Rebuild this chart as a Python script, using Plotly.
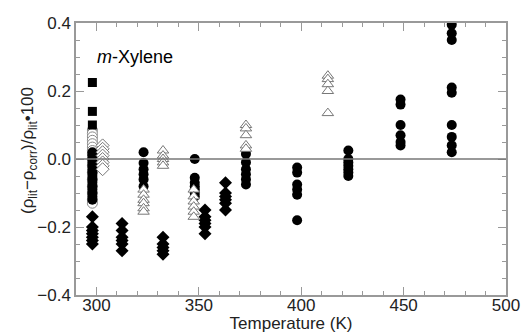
import plotly.graph_objects as go

# Filled squares
sq_T = [298, 298, 298]
sq_v = [0.225, 0.14, 0.10]

# Open circles (298 K)
oc_T = [298] * 16
oc_v = [0.085, 0.075, 0.065, 0.055, 0.045, 0.035, 0.025, 0.015, 0.0, -0.02,
        -0.04, -0.06, -0.08, -0.10, -0.12, -0.13]

# Filled circles
fc_T = ([298] * 15 + [323] * 6 + [348] * 7 + [373] * 6 + [398] * 6 +
        [423] * 7 + [448.5] * 6 + [473.5] * 9)
fc_v = ([0.02, 0.01, 0.0, -0.01, -0.02, -0.03, -0.04, -0.05, -0.06, -0.07,
         -0.08, -0.09, -0.10, -0.11, -0.12] +
        [0.02, -0.012, -0.03, -0.045, -0.06, -0.08] +
        [0.0, -0.055, -0.07, -0.08, -0.09, -0.10, -0.11] +
        [0.015, -0.01, -0.03, -0.045, -0.06, -0.075] +
        [-0.025, -0.04, -0.075, -0.09, -0.105, -0.18] +
        [0.025, 0.0, -0.01, -0.02, -0.03, -0.04, -0.05] +
        [0.175, 0.16, 0.10, 0.07, 0.05, 0.04] +
        [0.395, 0.37, 0.35, 0.21, 0.195, 0.10, 0.065, 0.04, 0.02])

# Filled diamonds
fd_T = [298] * 7 + [312.5] * 6 + [332.5] * 5 + [353] * 6 + [363] * 6
fd_v = ([-0.17, -0.20, -0.21, -0.22, -0.23, -0.24, -0.25] +
        [-0.19, -0.21, -0.23, -0.24, -0.25, -0.27] +
        [-0.23, -0.25, -0.26, -0.27, -0.28] +
        [-0.15, -0.17, -0.18, -0.19, -0.20, -0.22] +
        [-0.07, -0.10, -0.11, -0.12, -0.13, -0.15])

# Open diamonds
od_T = [303] * 8
od_v = [0.04, 0.03, 0.02, 0.01, 0.0, -0.01, -0.02, -0.03]

# Open triangles
ot_T = [323] * 6 + [332.5] * 5 + [347.5] * 6 + [373] * 5 + [413] * 5
ot_v = ([-0.09, -0.105, -0.12, -0.13, -0.145, -0.155] +
        [0.025, 0.01, 0.0, -0.01, -0.02] +
        [-0.09, -0.11, -0.125, -0.14, -0.155, -0.17] +
        [0.10, 0.09, 0.07, 0.04, 0.03] +
        [0.245, 0.235, 0.22, 0.20, 0.135])

fig = go.Figure()
fig.add_trace(go.Scatter(x=oc_T, y=oc_v, mode="markers",
                         marker=dict(symbol="circle", size=10, color="white",
                                     line=dict(color="#888888", width=1))))
fig.add_trace(go.Scatter(x=fc_T, y=fc_v, mode="markers",
                         marker=dict(symbol="circle", size=10, color="black",
                                     line=dict(color="black", width=0))))
fig.add_trace(go.Scatter(x=sq_T, y=sq_v, mode="markers",
                         marker=dict(symbol="square", size=9, color="black",
                                     line=dict(width=0))))
fig.add_trace(go.Scatter(x=fd_T, y=fd_v, mode="markers",
                         marker=dict(symbol="diamond", size=10, color="black",
                                     line=dict(width=0))))
fig.add_trace(go.Scatter(x=od_T, y=od_v, mode="markers",
                         marker=dict(symbol="diamond", size=10, color="white",
                                     line=dict(color="#777777", width=1))))
fig.add_trace(go.Scatter(x=ot_T, y=ot_v, mode="markers",
                         marker=dict(symbol="triangle-up", size=10, color="white",
                                     line=dict(color="#777777", width=1))))

fig.add_shape(type="line", xref="paper", x0=0, x1=1, yref="y", y0=0, y1=0,
              line=dict(color="#777777", width=1.5))

fig.add_annotation(x=299.5, y=0.30, xref="x", yref="y", xanchor="left",
                   yanchor="middle", showarrow=False,
                   text="<i>m</i>-Xylene",
                   font=dict(size=18, color="black"))

# y-axis title as rotated text
fig.add_annotation(x=0, y=0.5, xref="paper", yref="paper", xshift=-47,
                   yshift=8, xanchor="center", yanchor="middle",
                   showarrow=False, textangle=-90,
                   text="(ρ<sub>lit</sub>−ρ<sub>corr</sub>)/ρ<sub>lit</sub>•100",
                   font=dict(size=17, color="#222222"))

axis_common = dict(showline=True, linecolor="#999999", linewidth=1.5,
                   mirror="allticks", ticks="inside", tickcolor="#999999",
                   ticklen=8, tickwidth=1, showgrid=False, zeroline=False,
                   automargin=False,
                   tickfont=dict(size=17, color="#222222"))

fig.update_layout(
    width=528, height=333,
    margin=dict(l=76, r=22, t=23, b=38),
    paper_bgcolor="white", plot_bgcolor="white",
    showlegend=False,
    font=dict(family="Liberation Sans, Arial, sans-serif", color="#222222"),
    xaxis=dict(range=[290, 500], dtick=50, tick0=300,
               ticklabelstandoff=-6,
               minor=dict(dtick=10, ticks="inside", ticklen=4,
                          tickcolor="#999999"),
               title=dict(text="Temperature (K)", font=dict(size=17),
                          standoff=0),
               **axis_common),
    yaxis=dict(range=[-0.4, 0.4], dtick=0.2, tick0=0, tickformat=".1f",
               minor=dict(dtick=0.05, ticks="inside", ticklen=4,
                          tickcolor="#999999"),
               **axis_common),
)

fig.write_html("out.html")
